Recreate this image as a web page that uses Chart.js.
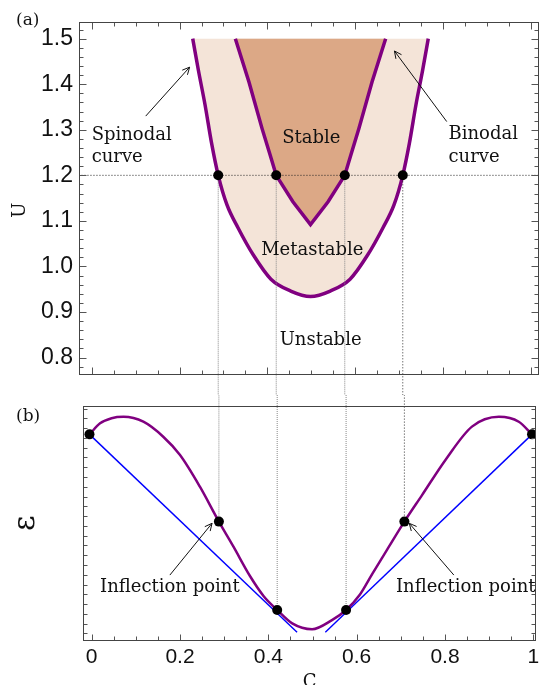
<!DOCTYPE html>
<html>
<head>
<meta charset="utf-8">
<script src="https://cdn.jsdelivr.net/npm/chart.js@4.4.1/dist/chart.umd.min.js"></script>
<style>
  html, body { margin:0; padding:0; background:#fff; overflow:hidden; }
  #wrap { position:relative; width:544px; height:685px; }
  canvas { position:absolute; left:0; }
  #chartA { top:0; }
  #chartB { top:395px; }
</style>
</head>
<body>
<div id="wrap">
  <canvas id="chartA" width="544" height="395"></canvas>
  <canvas id="chartB" width="544" height="300"></canvas>
</div>
<script>
// ---- panel (a): phase diagram U vs C ----
const outerC = [0.230, 0.243, 0.258, 0.273, 0.288, 0.308, 0.333, 0.368, 0.408, 0.453, 0.498, 0.543, 0.588, 0.628, 0.663, 0.688, 0.708, 0.723, 0.738, 0.753, 0.766];
const outerU = [1.5, 1.43, 1.355, 1.27, 1.2, 1.135, 1.085, 1.025, 0.972, 0.946, 0.934, 0.946, 0.972, 1.025, 1.085, 1.135, 1.2, 1.27, 1.355, 1.43, 1.5];
const innerC = [0.327, 0.358, 0.388, 0.406, 0.420, 0.458, 0.498, 0.538, 0.576, 0.590, 0.608, 0.638, 0.669];
const innerU = [1.5, 1.405, 1.302, 1.245, 1.2, 1.142, 1.092, 1.142, 1.2, 1.245, 1.302, 1.405, 1.5];
const pointC = [0.288, 0.420, 0.576, 0.708];
const levelU = 1.2;
const uTicks = [0.8, 0.9, 1.0, 1.1, 1.2, 1.3, 1.4, 1.5];

// ---- panel (b): energy vs C ----
const energyC = [-0.005, 0.019, 0.045, 0.072, 0.117, 0.162, 0.200, 0.245, 0.288, 0.321, 0.358, 0.389, 0.420, 0.454, 0.499, 0.544, 0.576, 0.607, 0.635, 0.673, 0.708, 0.748, 0.801, 0.861, 0.922, 0.967, 0.997];
const energyE = [0.879, 0.926, 0.948, 0.954, 0.933, 0.869, 0.791, 0.656, 0.507, 0.400, 0.276, 0.190, 0.130, 0.073, 0.048, 0.087, 0.130, 0.195, 0.283, 0.400, 0.507, 0.620, 0.770, 0.912, 0.954, 0.933, 0.879];
const markC = [-0.005, 0.288, 0.420, 0.576, 0.708, 0.997];
const markE = [0.879, 0.507, 0.130, 0.130, 0.507, 0.879];
const tangentLeftC = [-0.005, 0.465];
const tangentLeftE = [0.879, 0.035];
const tangentRightC = [0.529, 0.997];
const tangentRightE = [0.035, 0.879];
const cTicks = [0, 0.2, 0.4, 0.6, 0.8, 1];
const eTicks = [0.197, 0.406, 0.614, 0.822];

const PURPLE = 'rgb(128,0,128)';
const LIGHT = 'rgb(244,228,216)';
const DARK = 'rgb(220,168,134)';
const SERIF = '"DejaVu Serif", serif';
const SANS = '"Liberation Sans", Arial, sans-serif';

const xy = (xs, ys) => xs.map((x, i) => ({x, y: ys[i]}));

// inward frame ticks, Mathematica style
function frameTicks(o){
  return {
    id: 'frameTicks',
    afterDraw(chart){
      const {ctx, chartArea:a, scales:{x, y}} = chart;
      const L = Math.round(a.left) + 0.5, R = Math.round(a.right) - 0.5;
      const T = Math.round(a.top) + 0.5, B = Math.round(a.bottom) - 0.5;
      ctx.save();
      ctx.strokeStyle = '#555';
      ctx.lineWidth = 1;
      const line = (x0, y0, x1, y1) => { ctx.beginPath(); ctx.moveTo(x0, y0); ctx.lineTo(x1, y1); ctx.stroke(); };
      const walk = (major, step, lo, hi, fn) => {
        for (let v = lo; v <= hi + 1e-9; v += step) {
          const isMajor = major.some(m => Math.abs(m - v) < 1e-6);
          fn(v, isMajor ? o.major : o.minor);
        }
      };
      walk(o.xMajor, o.xStep, o.xLo, o.xHi, (v, len) => {
        const px = Math.round(x.getPixelForValue(v)) + 0.5;
        if (px < L || px > R) return;
        line(px, B, px, B - len);
        if (o.top) line(px, T, px, T + len);
      });
      walk(o.yMajor, o.yStep, o.yLo, o.yHi, (v, len) => {
        const py = Math.round(y.getPixelForValue(v)) + 0.5;
        if (py < T || py > B) return;
        line(L, py, L + len, py);
        line(R, py, R - len, py);
      });
      ctx.strokeStyle = '#444';
      ctx.strokeRect(L, T, R - L, B - T);
      ctx.restore();
    }
  };
}

// text labels and arrows placed in data coordinates
function notes(o){
  return {
    id: 'notes',
    afterDraw(chart){
      const {ctx, scales:{x, y}} = chart;
      ctx.save();
      ctx.fillStyle = '#111';
      ctx.font = '18px ' + SERIF;
      ctx.textBaseline = 'alphabetic';
      o.texts.forEach(t => {
        ctx.textAlign = t.align || 'left';
        ctx.fillText(t.text, x.getPixelForValue(t.c), y.getPixelForValue(t.v));
      });
      ctx.textAlign = 'left';
      ctx.font = '17px ' + SERIF;
      ctx.fillText(o.panel, 16, o.panelY);
      ctx.strokeStyle = '#111';
      ctx.lineWidth = 1;
      o.arrows.forEach(ar => {
        const x0 = x.getPixelForValue(ar[0]), y0 = y.getPixelForValue(ar[1]);
        const x1 = x.getPixelForValue(ar[2]), y1 = y.getPixelForValue(ar[3]);
        const ang = Math.atan2(y1 - y0, x1 - x0);
        ctx.beginPath();
        ctx.moveTo(x0, y0); ctx.lineTo(x1, y1);
        ctx.moveTo(x1 - 8 * Math.cos(ang - 0.45), y1 - 8 * Math.sin(ang - 0.45));
        ctx.lineTo(x1, y1);
        ctx.lineTo(x1 - 8 * Math.cos(ang + 0.45), y1 - 8 * Math.sin(ang + 0.45));
        ctx.stroke();
      });
      ctx.restore();
    }
  };
}

const vDot = (c, y0, y1, color, dash) => ({
  data: [{x: c, y: y0}, {x: c, y: y1}],
  borderColor: color, borderWidth: 1, borderDash: dash, pointRadius: 0, clip: false
});

new Chart(document.getElementById('chartA'), {
  type: 'line',
  data: {
    datasets: [
      { data: xy(pointC, pointC.map(() => levelU)), showLine: false, pointRadius: 5, pointBackgroundColor: '#000', pointBorderWidth: 0 },
      { data: [{x: -0.03, y: levelU}, {x: 1.02, y: levelU}], borderColor: '#222', borderWidth: 1, borderDash: [1, 2], pointRadius: 0 },
      vDot(pointC[0], levelU, 0.7, '#888', [1, 1]),
      vDot(pointC[1], levelU, 0.7, '#888', [1, 1]),
      vDot(pointC[2], levelU, 0.7, '#888', [1, 1]),
      vDot(pointC[3], levelU, 0.7, '#333', [1, 2]),
      { data: xy(innerC, innerU), borderColor: PURPLE, borderWidth: 3.5, tension: 0, pointRadius: 0,
        fill: {value: 1.5}, backgroundColor: DARK },
      { data: xy(outerC, outerU), borderColor: PURPLE, borderWidth: 3.5, cubicInterpolationMode: 'monotone', pointRadius: 0,
        fill: {value: 1.5}, backgroundColor: LIGHT }
    ]
  },
  options: {
    responsive: false, animation: false, devicePixelRatio: 1,
    layout: { padding: { top: 22, right: 3, left: 0, bottom: 0 } },
    plugins: { legend: { display: false }, tooltip: { enabled: false } },
    scales: {
      x: {
        type: 'linear', min: -0.0288, max: 1.018,
        ticks: { display: false }, grid: { display: false, drawTicks: false }, border: { display: false },
        afterFit: s => { s.height = 12.7; }
      },
      y: {
        min: 0.7612, max: 1.5366,
        afterBuildTicks: s => { s.ticks = uTicks.map(v => ({value: v})); },
        ticks: { font: { family: SANS, size: 23 }, color: '#111', padding: 6,
                 callback: v => Number(v).toFixed(1) },
        grid: { display: false, drawTicks: false }, border: { display: false },
        title: { display: true, text: 'U    ', color: '#111', font: { family: SERIF, size: 18 }, padding: { top: 10 } },
        afterFit: s => { s.width = 79; }
      }
    }
  },
  plugins: [
    frameTicks({ major: 7, minor: 4, top: true,
      xMajor: cTicks, xStep: 0.05, xLo: 0, xHi: 1,
      yMajor: uTicks, yStep: 0.02, yLo: 0.78, yHi: 1.52 }),
    notes({
      panel: '(a)', panelY: 25,
      texts: [
        { text: 'Spinodal', c: 0.0, v: 1.278 },
        { text: 'curve', c: 0.0, v: 1.229 },
        { text: 'Binodal', c: 0.812, v: 1.279 },
        { text: 'curve', c: 0.812, v: 1.229 },
        { text: 'Stable', c: 0.5, v: 1.272, align: 'center' },
        { text: 'Metastable', c: 0.502, v: 1.024, align: 'center' },
        { text: 'Unstable', c: 0.521, v: 0.8265, align: 'center' }
      ],
      arrows: [
        [0.123, 1.330, 0.223, 1.4375],
        [0.808, 1.318, 0.689, 1.473]
      ]
    })
  ]
});

new Chart(document.getElementById('chartB'), {
  type: 'line',
  data: {
    datasets: [
      { data: xy(markC, markE), showLine: false, pointRadius: 5, pointBackgroundColor: '#000', pointBorderWidth: 0 },
      { data: xy(energyC, energyE), borderColor: PURPLE, borderWidth: 2.5, cubicInterpolationMode: 'monotone', pointRadius: 0 },
      { data: xy(tangentLeftC, tangentLeftE), borderColor: 'rgb(0,0,255)', borderWidth: 1.4, pointRadius: 0 },
      { data: xy(tangentRightC, tangentRightE), borderColor: 'rgb(0,0,255)', borderWidth: 1.4, pointRadius: 0 },
      vDot(pointC[0], markE[1], 1.2, '#888', [1, 1]),
      vDot(pointC[1], markE[2], 1.2, '#888', [1, 1]),
      vDot(pointC[2], markE[3], 1.2, '#888', [1, 1]),
      vDot(pointC[3], markE[4], 1.2, '#333', [1, 2])
    ]
  },
  options: {
    responsive: false, animation: false, devicePixelRatio: 1,
    layout: { padding: { top: 11, right: 8, left: 0, bottom: 0 } },
    plugins: { legend: { display: false }, tooltip: { enabled: false } },
    scales: {
      x: {
        type: 'linear', min: -0.019, max: 1.006,
        afterBuildTicks: s => { s.ticks = cTicks.map(v => ({value: v})); },
        ticks: { font: { family: SANS, size: 21 }, color: '#111', padding: 4,
                 maxRotation: 0, callback: v => (v === 0 || v === 1) ? String(v) : Number(v).toFixed(1) },
        grid: { display: false, drawTicks: false }, border: { display: false },
        title: { display: true, text: 'C', color: '#111', font: { family: SERIF, size: 18 }, padding: { bottom: 2 } },
        afterFit: s => { s.height = 54.5; }
      },
      y: {
        min: 0, max: 1,
        ticks: { display: false },
        grid: { display: false, drawTicks: false }, border: { display: false },
        title: { display: true, text: 'ε', color: '#111', font: { family: SERIF, size: 30 }, padding: { top: 8 } },
        afterFit: s => { s.width = 83.3; }
      }
    }
  },
  plugins: [
    frameTicks({ major: 6, minor: 4, top: false,
      xMajor: cTicks, xStep: 0.05, xLo: 0, xHi: 1,
      yMajor: eTicks, yStep: 0.0417, yLo: 0.03, yHi: 0.99 }),
    notes({
      panel: '(b)', panelY: 26,
      texts: [
        { text: 'Inflection point', c: 0.019, v: 0.208 },
        { text: 'Inflection point', c: 0.689, v: 0.208 }
      ],
      arrows: [
        [0.177, 0.279, 0.2725, 0.4998],
        [0.820, 0.279, 0.719, 0.4998]
      ]
    })
  ]
});
</script>
</body>
</html>
